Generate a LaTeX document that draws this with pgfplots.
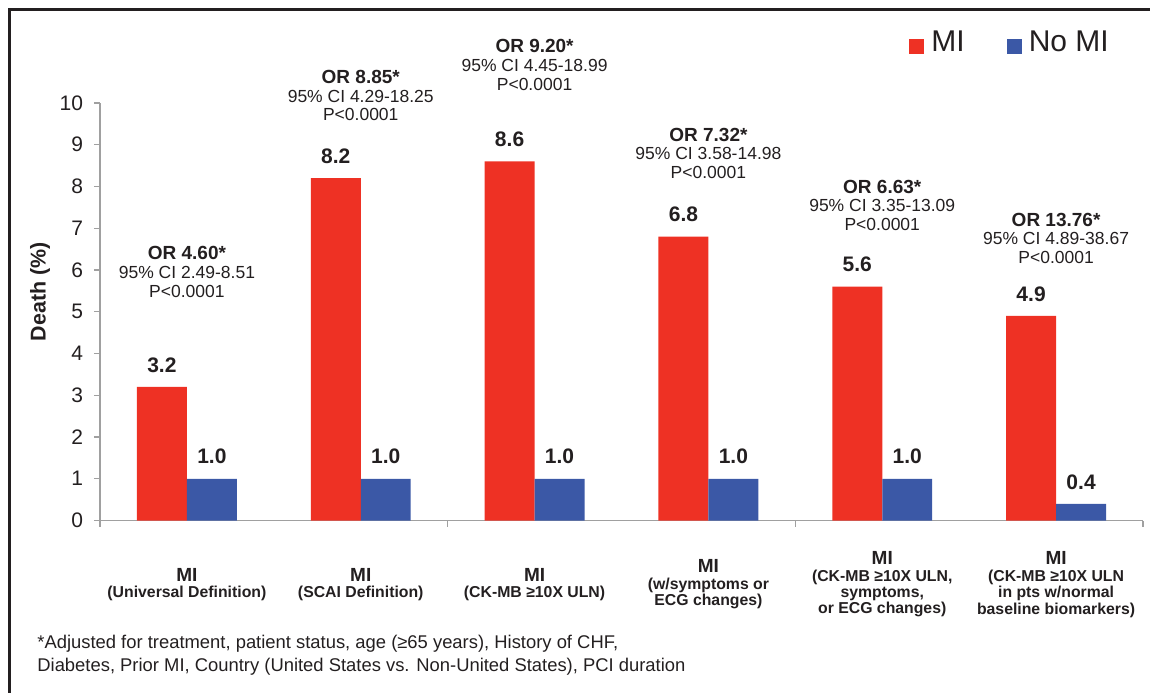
\documentclass[border=0pt]{standalone}
\usepackage{pgfplots}
\pgfplotsset{compat=1.18}
\usepackage{fontspec}
\setmainfont{Liberation Sans}
\definecolor{mired}{HTML}{EE3124}
\definecolor{noblue}{HTML}{3B58A6}
\definecolor{axgray}{HTML}{A0A0A0}
\definecolor{txt}{HTML}{231F20}
\newcommand\fs[1]{\fontsize{#1}{#1}\selectfont}
\newcommand\ann[4]{%
  \node[anchor=base, font=\bfseries\fs{9.5}, text=txt, inner sep=0pt] at (axis cs:#1,#2) {OR #3*};
  \node[anchor=base, font=\fs{8.75}, text=txt, inner sep=0pt, yshift=-9.4pt] at (axis cs:#1,#2) {95\% CI #4};
  \node[anchor=base, font=\fs{8.75}, text=txt, inner sep=0pt, yshift=-18.8pt] at (axis cs:#1,#2) {P<0.0001};
}
\begin{document}
\begin{tikzpicture}
\useasboundingbox (0,0) rectangle (575pt,-346pt);
\draw[txt, line width=1.1pt] (4.75pt,-360pt) -- (4.75pt,-4.75pt) -- (590pt,-4.75pt);
\begin{axis}[
  at={(50pt,-260.25pt)}, anchor=south west,
  scale only axis, width=521.5pt, height=208.75pt,
  xmin=0, xmax=6, ymin=0, ymax=10,
  clip=false,
  ybar=0pt, bar width=0.2876,
  axis x line*=bottom, axis y line*=left,
  axis line style={axgray, line width=0.6pt},
  tick style={axgray, line width=0.6pt},
  tick align=outside, major tick length=3pt,
  xtick={0,2,4,6}, xticklabels={,,,},
  extra x ticks={0.5,1.5,2.5,3.5,4.5,5.5},
  extra x tick labels={
    {{\fs{9.5}MI}\\(Universal Definition)},
    {{\fs{9.5}MI}\\(SCAI Definition)},
    {{\fs{9.5}MI}\\(CK-MB ≥10X ULN)},
    {{\fs{9.5}MI}\\(w/symptoms or\\ECG changes)},
    {{\fs{9.5}MI}\\(CK-MB ≥10X ULN,\\symptoms,\\or ECG changes)},
    {{\fs{9.5}MI}\\(CK-MB ≥10X ULN\\in pts w/normal\\baseline biomarkers)}},
  extra x tick style={tick style={draw=none},
    xticklabel style={anchor=center, yshift=-29pt, align=center,
      font=\bfseries\fontsize{7.9}{8.2}\selectfont, text=txt}},
  ytick={0,1,...,10},
  yticklabel style={font=\fs{10.5}, text=txt, xshift=-2pt},
  /pgf/number format/assume math mode=true,
  ylabel={Death (\%)},
  ylabel style={font=\bfseries\fs{10.7}, text=txt, at={(axis description cs:-0.0575,0.548)}, anchor=center},
  nodes near coords={\pgfmathprintnumber[fixed,zerofill,precision=1]{\pgfplotspointmeta}},
  every node near coord/.append style={font=\bfseries\fs{10.5}, text=txt, yshift=3.75pt},
  legend style={at={(0.7757,1.1435)}, anchor=west, draw=none, fill=none, inner sep=0pt,
    legend columns=2, font=\fs{15}, text=txt,
    /tikz/every odd column/.append style={column sep=1.5pt},
    /tikz/every even column/.append style={column sep=19pt}},
  legend image code/.code={\fill[#1,draw=none] (0pt,-5.2pt) rectangle (7.5pt,2.3pt);},
]
\addplot[fill=mired, draw=none] coordinates {(0.5,3.2) (1.5,8.2) (2.5,8.6) (3.5,6.8) (4.5,5.6) (5.5,4.9)};
\addplot[fill=noblue, draw=none] coordinates {(0.5,1.0) (1.5,1.0) (2.5,1.0) (3.5,1.0) (4.5,1.0) (5.5,0.4)};
\addlegendentry{MI}
\addlegendentry{No MI}
\ann{0.5}{6.24}{4.60}{2.49-8.51}
\ann{1.5}{10.47}{8.85}{4.29-18.25}
\ann{2.5}{11.21}{9.20}{4.45-18.99}
\ann{3.5}{9.09}{7.32}{3.58-14.98}
\ann{4.5}{7.84}{6.63}{3.35-13.09}
\ann{5.5}{7.05}{13.76}{4.89-38.67}
\end{axis}
\node[anchor=base west, font=\fs{9.2}, text=txt, inner sep=0pt] at (18.5pt,-324pt) {*Adjusted for treatment, patient status, age (≥65 years), History of CHF,};
\node[anchor=base west, font=\fs{9.2}, text=txt, inner sep=0pt] at (18.5pt,-335.5pt) {Diabetes, Prior MI, Country (United States vs. Non-United States), PCI duration};
\end{tikzpicture}
\end{document}
